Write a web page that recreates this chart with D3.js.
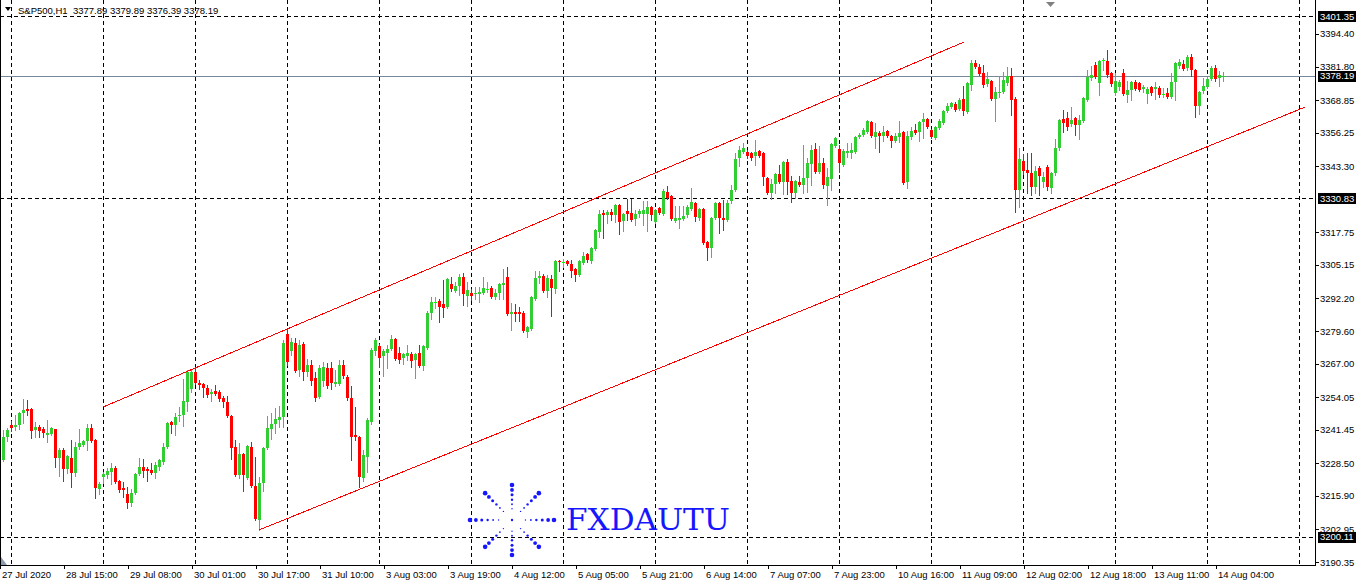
<!DOCTYPE html>
<html><head><meta charset="utf-8">
<script src="https://cdn.jsdelivr.net/npm/d3@7"></script>
<style>
html,body{margin:0;padding:0;background:#fff;}
svg{display:block;font-family:"Liberation Sans",Arial,sans-serif;}
</style>
</head><body>
<svg id="chart" width="1356" height="585"></svg>
<script>
// ---------------- DATA ----------------
const symbol = "S&P500,H1";

const opens = [
3229.8,3238.7,3243.3,3242.6,3243.3,3248.0,3249.5,3249.5,3241.4,3242.6,
3241.8,3239.5,3239.9,3241.8,3230.6,3233.7,3226.3,3230.6,3224.8,3234.8,
3235.6,3237.2,3242.2,3237.5,3218.6,3223.2,3224.0,3225.2,3226.7,3221.7,
3219.0,3216.7,3213.2,3217.1,3224.4,3227.1,3226.3,3225.9,3224.8,3227.1,
3229.0,3234.8,3244.5,3243.3,3246.8,3247.2,3252.2,3257.3,3263.8,3259.6,
3259.2,3257.6,3255.3,3256.5,3256.1,3253.8,3252.2,3246.8,3234.8,3224.0,
3232.1,3222.9,3234.8,3219.8,3206.6,3220.9,3234.4,3241.8,3243.7,3245.3,
3246.4,3278.5,3271.9,3275.0,3264.6,3274.6,3263.8,3266.5,3261.5,3254.2,
3260.3,3265.4,3265.4,3259.2,3259.2,3266.5,3261.9,3253.8,3239.5,3238.7,
3222.9,3231.0,3244.5,3271.9,3273.9,3270.0,3271.2,3272.7,3276.6,3271.2,
3269.2,3270.0,3270.8,3268.5,3271.2,3266.1,3273.1,3286.6,3290.7,3291.3,
3290.1,3288.9,3297.8,3295.1,3297.1,3300.5,3293.2,3294.4,3294.0,3294.0,
3294.4,3295.7,3296.3,3292.8,3294.4,3297.5,3300.5,3286.2,3287.0,3287.0,
3286.6,3279.3,3280.4,3292.0,3300.2,3300.9,3295.1,3299.8,3295.9,3306.7,
3306.4,3306.7,3305.6,3303.6,3301.3,3306.0,3309.4,3306.7,3311.4,3317.9,
3325.3,3324.5,3325.7,3324.5,3328.4,3322.2,3326.1,3325.3,3323.0,3324.9,
3324.9,3324.9,3327.6,3321.8,3327.2,3324.9,3333.4,3331.9,3322.2,3322.6,
3323.0,3324.5,3326.8,3329.1,3323.3,3326.8,3314.1,3311.8,3323.3,3329.1,
3323.3,3322.6,3329.9,3334.2,3346.5,3348.9,3348.9,3348.5,3347.3,3349.2,
3348.5,3338.8,3333.0,3336.5,3340.4,3337.3,3345.0,3337.6,3333.0,3337.3,
3336.1,3338.8,3344.2,3350.0,3341.1,3344.6,3335.7,3338.4,3351.2,3350.0,
3343.8,3348.5,3348.5,3348.9,3354.6,3355.4,3356.6,3360.5,3354.6,3356.2,
3355.0,3357.0,3355.0,3353.1,3354.6,3356.6,3337.3,3354.6,3357.4,3356.6,
3360.5,3361.6,3357.4,3354.3,3358.1,3360.1,3364.7,3366.2,3367.4,3365.5,
3369.3,3364.3,3374.8,3383.3,3381.7,3379.4,3375.1,3376.3,3369.3,3371.7,
3372.0,3375.5,3378.2,3369.3,3334.2,3345.4,3341.9,3340.7,3335.3,3342.7,
3337.3,3343.1,3334.9,3340.7,3350.4,3361.6,3362.0,3359.7,3362.0,3359.3,
3360.8,3369.0,3377.5,3382.5,3375.5,3384.2,3384.0,3379.4,3371.7,3374.0,
3379.4,3370.9,3372.8,3375.9,3375.5,3373.2,3371.3,3374.0,3373.2,3373.6,
3371.2,3371.7,3370.1,3375.9,3382.1,3382.9,3381.3,3385.6,3380.5,3366.6,
3372.4,3374.0,3377.1,3381.3,3377.5,3377.89];

const highs = [
3241.4,3242.2,3244.9,3247.2,3248.4,3253.4,3253.0,3249.7,3244.5,3243.3,
3242.6,3245.3,3242.6,3241.9,3234.4,3234.4,3231.7,3237.5,3236.8,3241.8,
3237.5,3243.7,3243.7,3237.9,3221.3,3225.2,3226.7,3228.7,3227.5,3222.1,
3221.3,3219.4,3218.6,3224.8,3230.6,3230.2,3227.1,3228.7,3229.0,3230.2,
3236.4,3244.5,3244.9,3248.0,3250.3,3261.1,3264.6,3264.6,3265.8,3260.7,
3259.4,3258.8,3257.3,3258.8,3256.9,3254.6,3254.6,3247.0,3237.5,3236.4,
3232.5,3235.6,3236.8,3231.0,3223.2,3234.8,3246.8,3248.0,3249.9,3250.7,
3276.2,3280.4,3277.0,3277.0,3276.2,3275.4,3268.9,3268.5,3263.8,3266.5,
3267.7,3267.3,3267.7,3264.6,3268.5,3268.5,3262.7,3258.4,3250.3,3238.9,
3233.7,3246.0,3273.1,3277.0,3274.6,3272.7,3274.3,3278.1,3276.8,3273.5,
3271.2,3274.3,3271.6,3271.2,3274.3,3274.3,3287.4,3292.8,3292.8,3292.0,
3299.4,3300.2,3300.5,3298.6,3301.7,3302.1,3298.6,3295.9,3296.7,3296.7,
3300.5,3298.6,3297.1,3295.9,3298.2,3303.6,3304.4,3290.5,3290.1,3288.9,
3287.4,3281.6,3293.2,3302.9,3302.9,3301.7,3301.3,3301.3,3307.1,3307.1,
3307.5,3307.1,3307.1,3304.0,3307.1,3310.2,3309.8,3312.1,3319.1,3326.4,
3326.4,3326.4,3326.8,3328.8,3328.8,3325.3,3330.7,3330.7,3326.4,3326.8,
3329.9,3329.9,3328.0,3326.8,3327.6,3334.6,3335.7,3332.2,3328.0,3328.0,
3328.0,3328.4,3334.9,3329.5,3327.2,3327.2,3314.5,3323.7,3329.5,3329.5,
3330.3,3330.3,3336.1,3348.5,3351.2,3352.3,3349.6,3348.9,3353.5,3349.6,
3348.9,3339.2,3338.4,3340.7,3343.8,3345.4,3346.2,3339.6,3338.0,3339.6,
3351.6,3346.5,3351.6,3352.3,3351.2,3346.5,3342.7,3352.3,3354.6,3351.6,
3350.0,3352.3,3352.3,3355.0,3356.2,3358.1,3361.2,3360.8,3360.1,3357.0,
3358.9,3357.4,3355.4,3356.2,3360.8,3357.0,3357.0,3358.5,3359.7,3360.8,
3363.9,3362.0,3357.7,3358.9,3361.6,3365.1,3367.8,3368.2,3368.2,3369.7,
3374.4,3375.9,3384.4,3384.4,3382.9,3382.5,3379.8,3376.7,3374.0,3377.8,
3379.8,3381.7,3381.3,3370.1,3350.4,3348.1,3348.5,3348.5,3343.4,3343.4,
3341.1,3343.8,3341.1,3353.9,3361.6,3365.1,3364.3,3366.2,3362.4,3363.2,
3370.1,3380.5,3382.1,3383.6,3384.4,3385.2,3388.3,3379.8,3379.4,3376.7,
3380.9,3376.3,3376.3,3376.7,3375.9,3374.8,3374.0,3374.4,3375.9,3374.4,
3373.6,3373.6,3379.4,3383.6,3384.8,3384.4,3386.3,3386.7,3380.9,3372.4,
3377.5,3377.8,3382.1,3382.5,3380.2,3379.89];

const lows = [
3229.4,3237.2,3241.0,3241.4,3241.8,3244.1,3247.2,3238.3,3238.7,3238.7,
3238.7,3236.8,3239.5,3227.1,3223.6,3221.7,3224.8,3219.4,3223.6,3234.1,
3235.2,3233.7,3236.8,3215.1,3216.7,3220.9,3222.9,3220.5,3220.9,3217.4,
3215.5,3211.3,3212.0,3216.7,3224.0,3223.2,3221.7,3224.4,3222.9,3225.9,
3228.3,3234.4,3240.2,3239.5,3244.9,3243.0,3248.8,3256.1,3259.2,3257.3,
3254.2,3254.2,3252.6,3254.9,3252.6,3250.3,3246.4,3230.2,3223.6,3222.9,
3217.8,3222.5,3219.4,3206.6,3202.8,3217.8,3234.1,3237.9,3240.2,3242.6,
3242.6,3266.5,3270.4,3263.8,3262.3,3260.7,3262.3,3258.8,3252.6,3253.8,
3258.4,3257.6,3257.3,3258.4,3258.8,3261.5,3253.0,3229.8,3237.5,3219.4,
3221.7,3225.2,3243.7,3270.4,3265.8,3262.3,3265.4,3272.3,3268.5,3267.3,
3266.9,3268.5,3265.8,3261.5,3265.8,3264.6,3272.7,3284.3,3288.6,3283.2,
3285.1,3288.6,3295.1,3294.7,3293.6,3289.7,3289.3,3291.7,3292.0,3290.9,
3294.0,3294.7,3292.4,3292.0,3292.0,3292.0,3285.9,3280.1,3283.5,3283.5,
3279.3,3277.4,3280.1,3291.7,3298.2,3294.7,3292.8,3285.5,3294.4,3302.9,
3304.4,3305.2,3300.5,3299.0,3300.9,3305.6,3306.3,3306.0,3311.0,3316.0,
3315.6,3321.4,3322.6,3321.8,3317.2,3318.3,3322.6,3322.2,3320.6,3323.7,
3320.6,3318.3,3322.6,3321.4,3324.9,3324.5,3330.7,3322.6,3321.8,3319.5,
3322.6,3323.7,3326.4,3322.2,3322.6,3313.3,3307.1,3308.3,3323.0,3317.6,
3318.7,3322.2,3329.1,3333.8,3343.4,3348.5,3346.5,3345.8,3343.8,3346.9,
3336.1,3332.6,3330.7,3333.0,3336.9,3332.6,3332.6,3329.5,3331.1,3335.7,
3333.0,3333.4,3336.1,3340.7,3340.7,3334.9,3328.4,3334.2,3350.8,3341.1,
3343.4,3346.9,3346.5,3348.5,3354.3,3355.0,3356.2,3354.6,3350.4,3348.9,
3353.1,3354.6,3350.8,3352.7,3352.7,3336.5,3334.9,3353.9,3355.8,3353.1,
3354.3,3358.1,3354.3,3353.9,3357.7,3359.7,3364.3,3365.9,3364.7,3365.1,
3363.2,3363.9,3372.8,3381.3,3378.6,3374.0,3374.4,3369.0,3360.8,3370.1,
3371.7,3374.8,3363.2,3325.7,3327.6,3340.4,3333.0,3332.2,3333.0,3332.2,
3335.3,3334.2,3333.0,3340.0,3349.6,3356.6,3357.4,3358.9,3355.4,3353.9,
3360.5,3368.6,3376.7,3377.5,3370.9,3380.5,3377.8,3374.4,3370.9,3372.8,
3370.9,3368.2,3369.0,3372.8,3372.4,3372.0,3367.8,3370.9,3369.3,3370.1,
3370.1,3369.7,3369.7,3369.0,3381.3,3380.5,3380.5,3378.0,3362.4,3363.5,
3371.7,3373.6,3376.7,3376.3,3374.4,3376.39];

const closes = [
3238.7,3241.4,3242.2,3243.3,3248.0,3249.1,3248.8,3241.0,3242.6,3241.0,
3240.2,3240.2,3242.2,3230.6,3233.7,3226.3,3231.4,3224.8,3234.8,3236.4,
3237.2,3242.2,3237.2,3219.0,3220.5,3224.4,3225.6,3226.7,3221.3,3218.2,
3218.2,3213.2,3217.1,3224.4,3227.1,3225.6,3225.6,3224.8,3227.9,3229.8,
3234.8,3244.1,3243.3,3246.4,3247.2,3252.6,3263.8,3263.8,3259.6,3258.8,
3257.6,3254.9,3256.1,3255.3,3253.4,3252.2,3246.8,3234.4,3224.0,3232.1,
3224.0,3235.2,3219.8,3207.0,3220.9,3234.4,3242.2,3243.7,3245.7,3246.4,
3275.0,3267.7,3275.4,3264.2,3274.3,3263.8,3266.5,3260.3,3253.8,3265.4,
3265.8,3258.4,3259.6,3260.0,3266.5,3262.3,3253.8,3238.7,3238.7,3223.2,
3231.7,3245.3,3272.3,3276.2,3269.2,3271.9,3272.7,3276.6,3268.9,3268.5,
3270.8,3271.2,3268.1,3270.8,3266.1,3273.9,3286.6,3290.9,3290.7,3288.9,
3288.6,3299.8,3295.9,3297.1,3300.5,3294.0,3295.5,3293.2,3294.4,3294.7,
3296.3,3295.7,3292.8,3294.4,3297.8,3298.2,3286.2,3287.0,3286.2,3286.2,
3279.7,3281.2,3292.8,3300.2,3300.9,3295.1,3300.2,3296.3,3306.7,3306.3,
3306.4,3305.6,3302.9,3301.3,3306.7,3308.7,3307.1,3311.8,3318.7,3324.9,
3324.5,3325.7,3324.5,3328.4,3321.8,3324.9,3324.9,3322.6,3324.9,3326.1,
3326.4,3327.6,3324.5,3326.4,3325.3,3333.8,3331.1,3323.0,3323.3,3323.3,
3324.1,3327.6,3329.5,3323.7,3326.8,3313.7,3311.8,3323.3,3329.1,3323.3,
3322.6,3329.1,3334.2,3346.2,3349.6,3350.4,3347.3,3346.5,3348.9,3347.3,
3339.2,3333.0,3336.5,3340.4,3337.3,3345.0,3337.3,3333.0,3337.6,3336.1,
3338.8,3344.6,3349.6,3341.1,3344.6,3336.1,3339.2,3351.9,3354.3,3344.6,
3349.2,3349.2,3349.6,3354.6,3355.4,3357.4,3360.8,3355.0,3356.6,3355.0,
3356.6,3355.0,3353.1,3355.0,3356.2,3336.9,3355.0,3357.0,3356.2,3360.5,
3361.6,3358.5,3354.6,3358.5,3360.8,3364.7,3366.6,3367.8,3365.1,3369.0,
3364.7,3375.5,3383.3,3381.7,3379.0,3374.8,3377.1,3369.3,3372.0,3372.0,
3376.7,3378.2,3369.0,3334.2,3346.2,3341.5,3340.7,3335.3,3341.5,3339.6,
3339.2,3335.3,3340.7,3350.4,3361.2,3360.1,3358.5,3361.2,3359.3,3361.2,
3369.7,3377.8,3378.6,3377.8,3384.0,3384.2,3378.6,3375.1,3376.3,3375.9,
3371.3,3372.8,3375.9,3373.2,3372.8,3374.0,3373.2,3371.7,3374.0,3370.9,
3371.2,3370.1,3375.9,3383.3,3383.6,3380.9,3385.6,3380.5,3366.6,3372.0,
3374.4,3377.1,3381.3,3377.1,3378.6,3378.19];

// time axis labels, one every 16 bars starting at bar 0
const timeLabels = ["27 Jul 2020","28 Jul 15:00","29 Jul 08:00","30 Jul 01:00","30 Jul 17:00",
  "31 Jul 10:00","3 Aug 03:00","3 Aug 19:00","4 Aug 12:00","5 Aug 05:00","5 Aug 21:00",
  "6 Aug 14:00","7 Aug 07:00","7 Aug 23:00","10 Aug 16:00","11 Aug 09:00","12 Aug 02:00",
  "12 Aug 18:00","13 Aug 11:00","14 Aug 04:00"];
const labelEvery = 16;

// price scale labels
const priceTicks = [3394.40,3381.80,3368.85,3356.25,3343.30,3317.75,3305.15,3292.20,
  3279.60,3267.00,3254.05,3241.45,3228.50,3215.90,3202.95,3190.35];

// horizontal level lines (dashed) and current bid
const levelLines = [3401.35, 3330.83, 3200.11];
const bidPrice = 3378.19;

// channel trend lines: [bar index, price]
const channelUpper = [[25, 3250.3], [240, 3391.2]];
const channelLower = [[64, 3202.8], [325.5, 3366.2]];

// vertical grid every 23 bars
const gridFirst = 2, gridEvery = 23;

// ---------------- DRAW ----------------
const svg = d3.select("#chart");
const W = 1356, H = 585, plotRight = 1315, plotBottom = 565;
const nSlots = 328;

const x = d3.scaleLinear().domain([0, nSlots]).range([3.5, 3.5 + 4 * nSlots]);
const y = d3.scaleLinear().domain([3190.35, 3401.35]).range([562, 16]);
const py = v => Math.round(y(v)) + 0.5;

svg.append("rect").attr("width", W).attr("height", H).attr("fill", "#fff");

// vertical grid
const gridIdx = d3.range(gridFirst, nSlots, gridEvery);
svg.append("g").selectAll("line").data(gridIdx).join("line")
  .attr("x1", d => Math.floor(x(d)) + 0.5).attr("x2", d => Math.floor(x(d)) + 0.5)
  .attr("y1", 0).attr("y2", plotBottom)
  .attr("stroke", "#000").attr("stroke-width", 1).attr("stroke-dasharray", "4,3");

// level lines
svg.append("g").selectAll("line").data(levelLines).join("line")
  .attr("x1", 0).attr("x2", plotRight).attr("y1", d => py(d)).attr("y2", d => py(d))
  .attr("stroke", "#000").attr("stroke-width", 1).attr("stroke-dasharray", "4,3");

// bid line
svg.append("line").attr("x1", 0).attr("x2", plotRight)
  .attr("y1", py(bidPrice)).attr("y2", py(bidPrice))
  .attr("stroke", "#778899").attr("stroke-width", 1);

// candles
const bars = d3.range(opens.length).map(i => ({i, o: opens[i], h: highs[i], l: lows[i], c: closes[i]}));
const col = d => d.c > d.o ? "#32cd32" : (d.c < d.o ? "#ff0000" : "#00ff00");
const cg = svg.append("g").attr("shape-rendering", "crispEdges");
cg.selectAll("rect.w").data(bars).join("rect").attr("class", "w")
  .attr("x", d => Math.floor(x(d.i)))
  .attr("y", d => Math.round(y(d.h)))
  .attr("width", 1)
  .attr("height", d => Math.max(1, Math.round(y(d.l)) - Math.round(y(d.h)) + 1))
  .attr("fill", col);
cg.selectAll("rect.b").data(bars).join("rect").attr("class", "b")
  .attr("x", d => Math.floor(x(d.i)) - 1)
  .attr("y", d => Math.round(y(Math.max(d.o, d.c))))
  .attr("width", 3)
  .attr("height", d => Math.max(1, Math.round(y(Math.min(d.o, d.c))) - Math.round(y(Math.max(d.o, d.c)))))
  .attr("fill", col);

// channel lines
const lineGen = d3.line().x(d => x(d[0])).y(d => y(d[1]));
svg.append("g").selectAll("path").data([channelUpper, channelLower]).join("path")
  .attr("d", lineGen).attr("fill", "none").attr("stroke", "#ff0000").attr("stroke-width", 1)
  .attr("shape-rendering", "crispEdges");

// watermark logo
const logo = svg.append("g").attr("fill", "#1616ff");
const lc = [512, 520];
const rays = [[-90, 35], [90, 35], [180, 42], [0, 42], [-135, 38], [-45, 38], [135, 38], [45, 38]];
const dots = [[1.0, 2.3], [0.86, 1.9], [0.72, 1.5], [0.58, 1.2], [0.45, 0.9], [0.32, 0.7]];
rays.forEach(([a, len]) => {
  const rad = a * Math.PI / 180;
  dots.forEach(([f, r]) => {
    logo.append("circle").attr("cx", lc[0] + Math.cos(rad) * len * f)
      .attr("cy", lc[1] + Math.sin(rad) * len * f).attr("r", r);
  });
});
logo.append("circle").attr("cx", lc[0]).attr("cy", lc[1]).attr("r", 1.2);
svg.append("text").attr("x", 566).attr("y", 530).attr("font-family", "'DejaVu Serif', 'Liberation Serif', serif")
  .attr("font-size", 30).attr("fill", "#1616ff").attr("textLength", 164)
  .attr("lengthAdjust", "spacingAndGlyphs").text("FXDAUTU");

// frame / axes
svg.append("line").attr("x1", 0.5).attr("x2", 0.5).attr("y1", 0).attr("y2", plotBottom + 0.5).attr("stroke", "#000");
svg.append("line").attr("x1", plotRight + 0.5).attr("x2", plotRight + 0.5).attr("y1", 0).attr("y2", plotBottom + 0.5).attr("stroke", "#000");
svg.append("line").attr("x1", 0).attr("x2", plotRight + 1).attr("y1", plotBottom + 0.5).attr("y2", plotBottom + 0.5).attr("stroke", "#000");

// price axis
const pa = svg.append("g").attr("font-size", "9.5px");
pa.selectAll("line").data(priceTicks).join("line")
  .attr("x1", plotRight).attr("x2", plotRight + 4).attr("y1", d => py(d)).attr("y2", d => py(d)).attr("stroke", "#000");
pa.selectAll("text").data(priceTicks).join("text")
  .attr("x", 1320).attr("y", d => y(d) + 3.5).attr("fill", "#000").text(d => d.toFixed(2));

// highlighted price labels
const hl = svg.append("g").attr("font-size", "9.5px");
[...levelLines, bidPrice].forEach(v => {
  hl.append("rect").attr("x", 1318).attr("y", Math.round(y(v)) - 5).attr("width", 38).attr("height", 11).attr("fill", "#000");
  hl.append("text").attr("x", 1320).attr("y", y(v) + 3.5).attr("fill", "#fff").text(v.toFixed(2));
});

// time axis
const ta = svg.append("g").attr("font-size", "9.5px");
const tIdx = timeLabels.map((t, k) => k * labelEvery);
ta.selectAll("line").data(tIdx).join("line")
  .attr("x1", d => Math.floor(x(d)) - 2.5).attr("x2", d => Math.floor(x(d)) - 2.5)
  .attr("y1", plotBottom).attr("y2", plotBottom + 4).attr("stroke", "#000");
ta.selectAll("text").data(timeLabels).join("text")
  .attr("x", (d, k) => x(tIdx[k]) - 1.5).attr("y", 578).attr("fill", "#000").text(d => d);

// header
const last = bars[bars.length - 1];
svg.append("path").attr("d", "M5,7 L11,7 L8,11 Z").attr("fill", "#000");
svg.append("text").attr("x", 18).attr("y", 14).attr("font-size", "9.5px").attr("fill", "#000")
  .style("white-space", "pre")
  .text(`${symbol}  ${last.o.toFixed(2)} ${last.h.toFixed(2)} ${last.l.toFixed(2)} ${last.c.toFixed(2)}`);

// shift marker & scroll marker
svg.append("path").attr("d", "M1046,2 L1055,2 L1050.5,7 Z").attr("fill", "#808080");
svg.append("path").attr("d", "M1,557 L1,565 L7,565 Z").attr("fill", "#8a9ab0");
</script>
</body></html>
